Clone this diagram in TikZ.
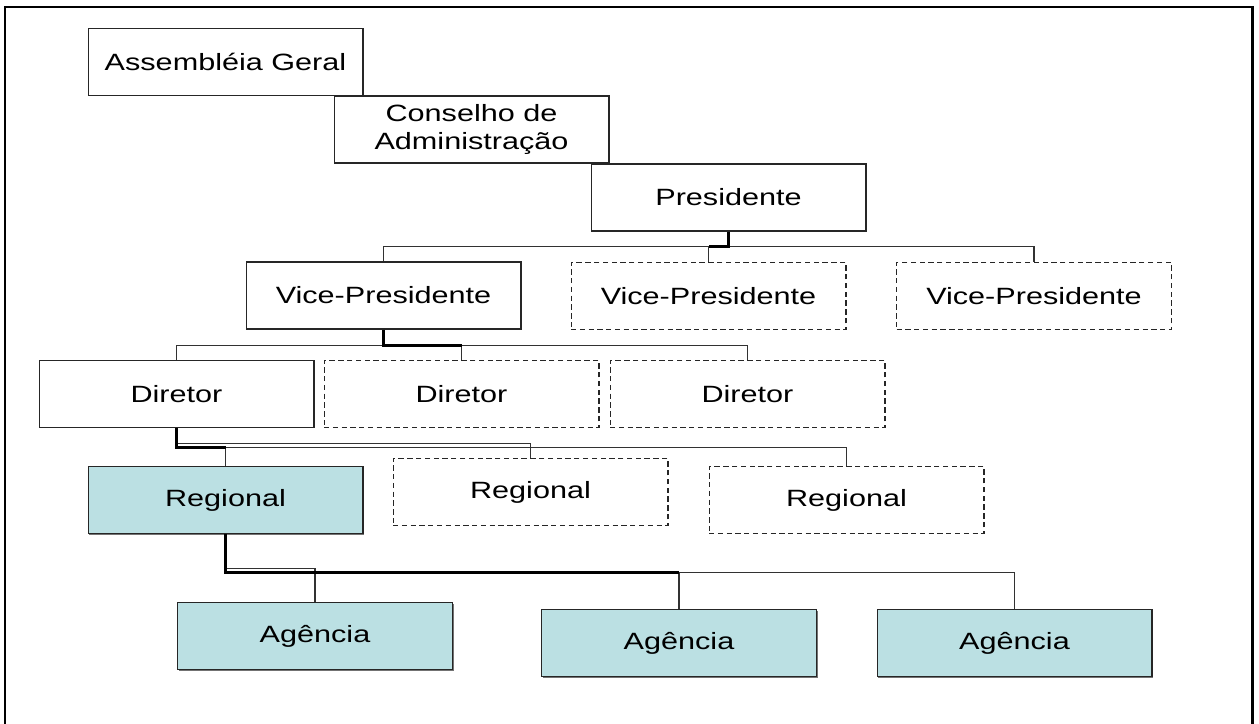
\documentclass[tikz,border=0pt]{standalone}
\usepackage{fontspec}
\usepackage{xcolor}
\usepackage{tikz}
\usetikzlibrary{calc,shadows}
\newfontfamily\chartfont[FakeStretch=1.3]{Liberation Sans}
\definecolor{boxfill}{RGB}{187,224,227}
\definecolor{linegray}{RGB}{50,50,50}

\begin{document}
\begin{tikzpicture}[x=0.02cm, y=-0.02cm,
  cargo/.style={draw=black!85, line width=0.6pt, minimum width=5.5cm, minimum height=1.34cm,
    inner sep=0pt, align=center, font=\chartfont\fontsize{13.4}{15.8}\selectfont},
  vaga/.style={cargo, dash pattern=on 3pt off 2pt},
  unidade/.style={cargo, fill=boxfill, general shadow={shadow xshift=0.6pt, shadow yshift=-0.8pt, fill=black!55}},
  elo/.style={draw=linegray, line width=0.6pt},
  haste/.style={draw=black, line width=1.2pt}]
\useasboundingbox (0,0) rectangle (1259,724);
\draw[line width=1.7pt] (5,724) -- (5,7) -- (1252,7) -- (1252,724);
% top of the chart
\node[cargo] (assembleia) at (225.5,62) {Assembléia Geral};
\node[cargo] (conselho) at (471.5,129.5) {Conselho de\\Administração};
\node[cargo] (pres) at (728.5,197.5) {Presidente};
\node[cargo] (vp1) at (383.5,295.5) {Vice-Presidente};
\node[vaga] (vp2) at (708.5,296) {Vice-Presidente};
\node[vaga] (vp3) at (1034,296) {Vice-Presidente};
\node[cargo] (dir1) at (176.5,394) {Diretor};
\node[vaga] (dir2) at (461.5,394) {Diretor};
\node[vaga] (dir3) at (747.5,394) {Diretor};
\node[unidade] (reg1) at (225.5,500) {Regional};
\node[vaga] (reg2) at (530.5,492) {Regional};
\node[vaga] (reg3) at (846.5,500) {Regional};
\node[unidade] (age1) at (315,636) {Agência};
\node[unidade] (age2) at (679,643) {Agência};
\node[unidade] (age3) at (1014.5,643) {Agência};
% connectors
\coordinate (j1) at ($(pres.south)+(0,15)$);
\coordinate (j2) at ($(vp1.south)+(0,16)$);
\coordinate (j3a) at ($(dir1.south)+(0,15.5)$);
\coordinate (j3b) at ($(dir1.south)+(0,19.5)$);
\coordinate (j4a) at ($(reg1.south)+(0,34.5)$);
\coordinate (j4b) at ($(reg1.south)+(0,38.5)$);
\draw[elo] (j1) -| (vp1.north);
\draw[elo] (j1) -| (vp2.north);
\draw[elo] (j1) -| (vp3.north);
\draw[haste] (pres.south) -- (j1) -- (j1 -| vp2.north);
\draw[elo] (j2) -| (dir1.north);
\draw[elo] (j2) -| (dir2.north);
\draw[elo] (j2) -| (dir3.north);
\draw[haste] (vp1.south) -- (j2) -- (j2 -| dir2.north);
\draw[elo] (j3a) -| (reg2.north);
\draw[elo] (j3b) -| (reg3.north);
\draw[elo] (j3b -| reg1.north) -- (reg1.north);
\draw[haste] (dir1.south) -- (j3b) -- (j3b -| reg1.north);
\draw[elo] (j4a) -| (age1.north);
\draw[elo] (j4b) -| (age3.north);
\draw[elo] (j4b -| age2.north) -- (age2.north);
\draw[haste] (reg1.south) -- (j4b) -- (j4b -| age2.north);
\end{tikzpicture}
\end{document}
